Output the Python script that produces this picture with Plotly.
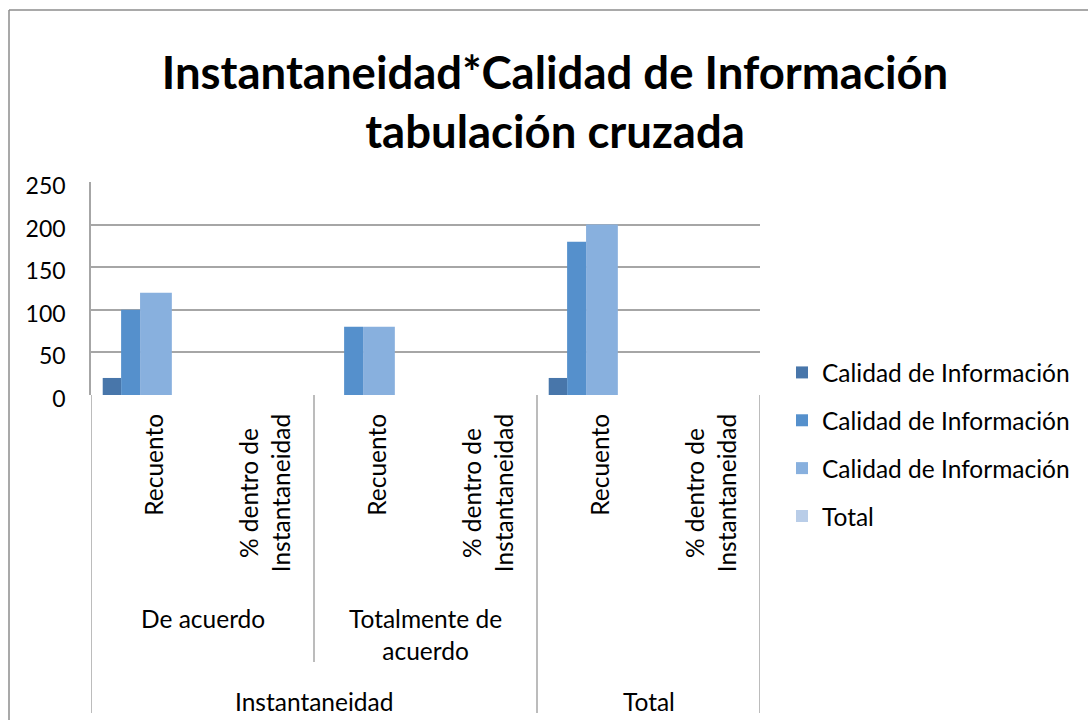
import plotly.graph_objects as go

# ---- data ----
sub_labels = ["Recuento", "% dentro de<br>Instantaneidad",
              "Recuento", "% dentro de<br>Instantaneidad",
              "Recuento", "% dentro de<br>Instantaneidad"]
mid_labels = ["De acuerdo", "Totalmente de<br>acuerdo", ""]
top_labels = ["Instantaneidad", "Total"]
series_names = ["Calidad de Información", "Calidad de Información",
                "Calidad de Información", "Total"]
s1 = [20, None, 0, None, 20, None]
s2 = [100, None, 80, None, 180, None]
s3 = [120, None, 80, None, 200, None]
s4 = [None, None, None, None, None, None]
y_ticks = [0, 50, 100, 150, 200, 250]

# ---- style ----
colors = ["#4876AA", "#5590CC", "#88B0DE", "#B9CDE8"]
offsets = [-0.395, -0.23, -0.06, 0.225]
widths = [0.165, 0.17, 0.285, 0.17]
FONT = "Lato"
GRID = "#A6A6A6"
LBL = 24.5

W, H = 1088, 720
L, R, T, B = 91, 760, 182, 395  # plot area in px


def px_x(px):
    return (px - L) / (R - L)


def px_y(py):
    return (B - py) / (B - T)


x = list(range(len(sub_labels)))
fig = go.Figure()
for name, vals, c, o, w, g in zip(series_names, [s1, s2, s3, s4], colors,
                                  offsets, widths, range(4)):
    fig.add_trace(go.Bar(x=x, y=vals, name=name, marker_color=c,
                         marker_line_width=0, offset=o, width=w,
                         legendgroup=str(g)))

ann = []
shapes = []
# rotated sub-category labels
for i, lab in enumerate(sub_labels):
    ann.append(dict(x=i, xref="x", y=px_y(412), yref="paper", text=lab,
                    textangle=-90, showarrow=False, xanchor="center",
                    yanchor="top", xshift=6, align="center",
                    font=dict(family=FONT, size=LBL, color="#000")))
# middle-level labels
for gi, lab in enumerate(mid_labels):
    if lab:
        ann.append(dict(x=2 * gi + 0.5, xref="x", y=px_y(634), yref="paper",
                        text=lab, showarrow=False, xanchor="center",
                        yanchor="middle",
                        yshift=0 if "<br>" in lab else 16,
                        font=dict(family=FONT, size=LBL, color="#000")))
# top-level labels
top_pos = [1.5, 4.5]
for pos, lab in zip(top_pos, top_labels):
    ann.append(dict(x=pos, xref="x", y=px_y(702), yref="paper", text=lab,
                    showarrow=False, xanchor="center", yanchor="middle",
                    font=dict(family=FONT, size=LBL, color="#000")))

# category separators
for xb, ybot in [(-0.5, 713), (1.5, 662), (3.5, 713), (5.5, 713)]:
    shapes.append(dict(type="line", xref="x", yref="paper", x0=xb, x1=xb,
                       y0=0, y1=px_y(ybot), line=dict(color=GRID, width=1.5)))
# outer chart border (top and left)
shapes.append(dict(type="line", xref="paper", yref="paper", x0=px_x(9),
                   x1=px_x(1090), y0=px_y(10), y1=px_y(10),
                   line=dict(color="#8C8C8C", width=1.5)))
shapes.append(dict(type="line", xref="paper", yref="paper", x0=px_x(9),
                   x1=px_x(9), y0=px_y(10), y1=px_y(730),
                   line=dict(color="#8C8C8C", width=1.5)))

fig.update_layout(
    width=W, height=H,
    margin=dict(l=L, r=W - R, t=T, b=H - B, pad=0),
    paper_bgcolor="white", plot_bgcolor="white",
    barmode="overlay",
    title=dict(text="<b>Instantaneidad*Calidad de Información<br>tabulación cruzada</b>",
               x=555 / W, xanchor="center", y=1 - 89 / H, yanchor="middle",
               yref="container", xref="container",
               font=dict(family=FONT, size=45.5, color="#000")),
    xaxis=dict(range=[-0.5, 5.5], showticklabels=False, showgrid=False,
               zeroline=False, showline=False, ticks=""),
    yaxis=dict(range=[0, 250], tickvals=y_ticks, showgrid=True,
               gridcolor=GRID, gridwidth=1.5, zeroline=False, showline=True,
               linecolor=GRID, linewidth=1.5, ticks="",
               ticklabelstandoff=19, ticklabelshift=4,
               tickfont=dict(family=FONT, size=23, color="#000")),
    legend=dict(x=px_x(782), xanchor="left", y=px_y(350), yanchor="top",
                font=dict(family=FONT, size=LBL, color="#000"),
                tracegroupgap=13, bgcolor="rgba(0,0,0,0)",
                itemclick=False),
    showlegend=True,
    annotations=ann, shapes=shapes,
)

fig.write_html("out.html", config={"displayModeBar": False},
               post_script="document.body.style.margin='0';"
                           "document.body.style.overflow='hidden';")
